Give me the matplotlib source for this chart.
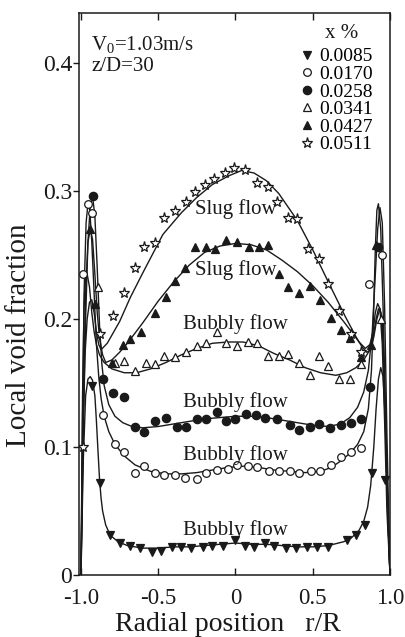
import matplotlib
matplotlib.use("Agg")
import matplotlib.pyplot as plt
from matplotlib.lines import Line2D

plt.rcParams["font.family"] = "serif"
plt.rcParams["font.serif"] = ["Liberation Serif", "DejaVu Serif"]
plt.rcParams["mathtext.fontset"] = "custom"
plt.rcParams["mathtext.rm"] = "Liberation Serif"

# --- measured points (r/R, local void fraction) ---
qualities = ["0.0085", "0.0170", "0.0258", "0.0341", "0.0427", "0.0511"]

m0085_x = [-0.93, -0.88, -0.81, -0.75, -0.68, -0.62, -0.54, -0.48, -0.41, -0.35, -0.29, -0.21, -0.15, -0.08,
           0.0, 0.06, 0.12, 0.19, 0.25, 0.33, 0.39, 0.46, 0.53, 0.60, 0.72, 0.78, 0.84, 0.885, 0.97]
m0085_y = [0.148, 0.072, 0.031, 0.025, 0.023, 0.021, 0.018, 0.019, 0.022, 0.022, 0.021, 0.022, 0.023, 0.023,
           0.027, 0.023, 0.022, 0.025, 0.023, 0.021, 0.021, 0.022, 0.022, 0.022, 0.027, 0.031, 0.039, 0.080, 0.074]

m0170_x = [-0.985, -0.955, -0.93, -0.86, -0.78, -0.72, -0.65, -0.59, -0.52, -0.46, -0.39, -0.33, -0.25, -0.19,
           -0.12, -0.05, 0.01, 0.08, 0.14, 0.22, 0.28, 0.35, 0.41, 0.49, 0.55, 0.62, 0.68, 0.75, 0.81, 0.865, 0.95]
m0170_y = [0.235, 0.290, 0.283, 0.125, 0.102, 0.096, 0.080, 0.085, 0.080, 0.078, 0.078, 0.076, 0.075, 0.080,
           0.082, 0.083, 0.086, 0.085, 0.084, 0.081, 0.081, 0.081, 0.080, 0.081, 0.081, 0.086, 0.092, 0.096, 0.099,
           0.227, 0.250]

m0258_x = [-0.92, -0.86, -0.79, -0.72, -0.65, -0.59, -0.52, -0.45, -0.38, -0.32, -0.25, -0.19, -0.12, -0.06,
           0.0, 0.07, 0.13, 0.19, 0.27, 0.35, 0.41, 0.48, 0.54, 0.61, 0.68, 0.75, 0.81, 0.87, 0.925]
m0258_y = [0.296, 0.153, 0.142, 0.139, 0.116, 0.112, 0.120, 0.123, 0.116, 0.116, 0.122, 0.122, 0.127, 0.120,
           0.122, 0.126, 0.125, 0.123, 0.122, 0.117, 0.113, 0.116, 0.118, 0.115, 0.117, 0.119, 0.122, 0.147, 0.256]

m0341_x = [-0.89, -0.78, -0.72, -0.65, -0.58, -0.52, -0.46, -0.39, -0.32, -0.25, -0.19, -0.12, -0.06, 0.01,
           0.08, 0.14, 0.21, 0.28, 0.34, 0.41, 0.48, 0.54, 0.60, 0.67, 0.74, 0.81, 0.94]
m0341_y = [0.225, 0.166, 0.167, 0.159, 0.166, 0.165, 0.171, 0.170, 0.174, 0.179, 0.181, 0.190, 0.181, 0.179,
           0.182, 0.181, 0.171, 0.171, 0.173, 0.166, 0.156, 0.171, 0.163, 0.153, 0.153, 0.165, 0.200]

m0427_x = [-0.94, -0.91, -0.80, -0.73, -0.68, -0.61, -0.52, -0.45, -0.39, -0.33, -0.26, -0.19, -0.13, -0.06,
           0.01, 0.09, 0.15, 0.21, 0.28, 0.34, 0.41, 0.48, 0.55, 0.62, 0.68, 0.74, 0.81, 0.88, 0.91]
m0427_y = [0.270, 0.212, 0.166, 0.180, 0.184, 0.190, 0.205, 0.217, 0.230, 0.240, 0.256, 0.256, 0.255, 0.262,
           0.260, 0.256, 0.256, 0.258, 0.235, 0.225, 0.220, 0.226, 0.215, 0.201, 0.191, 0.185, 0.170, 0.180, 0.258]

m0511_x = [-0.99, -0.88, -0.79, -0.72, -0.65, -0.59, -0.52, -0.46, -0.39, -0.32, -0.26, -0.20, -0.14, -0.07,
           -0.01, 0.06, 0.14, 0.21, 0.27, 0.34, 0.40, 0.47, 0.54, 0.60, 0.67, 0.75, 0.81]
m0511_y = [0.100, 0.188, 0.202, 0.220, 0.240, 0.256, 0.259, 0.279, 0.284, 0.291, 0.299, 0.305, 0.309, 0.314,
           0.318, 0.316, 0.306, 0.303, 0.291, 0.279, 0.278, 0.255, 0.247, 0.227, 0.206, 0.188, 0.174]

# --- fitted curves ---
f0085_x = [-1.0, -0.985, -0.97, -0.955, -0.94, -0.925, -0.91, -0.9, -0.89, -0.88, -0.87, -0.86, -0.84, -0.81,
           -0.76, -0.7, -0.6, -0.5, -0.4, -0.3, -0.2, -0.1, 0.0, 0.1, 0.2, 0.3, 0.4, 0.5, 0.6, 0.7, 0.75, 0.8,
           0.83, 0.855, 0.875, 0.895, 0.91, 0.925, 0.94, 0.955, 0.97, 0.985, 1.0]
f0085_y = [0.0, 0.09, 0.14, 0.153, 0.155, 0.152, 0.14, 0.12, 0.097, 0.075, 0.06, 0.05, 0.039, 0.031,
           0.026, 0.023, 0.021, 0.021, 0.022, 0.022, 0.023, 0.024, 0.025, 0.024, 0.024, 0.023, 0.022, 0.022,
           0.023, 0.026, 0.029, 0.035, 0.042, 0.053, 0.07, 0.1, 0.13, 0.153, 0.162, 0.155, 0.12, 0.05, 0.0]

f0170_x = [-1.0, -0.99, -0.98, -0.967, -0.955, -0.943, -0.93, -0.915, -0.9, -0.885, -0.87, -0.85, -0.82, -0.78,
           -0.72, -0.65, -0.55, -0.45, -0.35, -0.25, -0.15, -0.05, 0.05, 0.15, 0.25, 0.35, 0.45, 0.55, 0.62,
           0.68, 0.74, 0.79, 0.83, 0.86, 0.88, 0.895, 0.905, 0.915, 0.925, 0.94, 0.955, 0.97, 0.985, 1.0]
f0170_y = [0.0, 0.12, 0.22, 0.275, 0.29, 0.285, 0.26, 0.22, 0.18, 0.155, 0.138, 0.124, 0.112, 0.102,
           0.093, 0.086, 0.081, 0.079, 0.079, 0.080, 0.082, 0.084, 0.085, 0.084, 0.082, 0.081, 0.080, 0.081, 0.084,
           0.089, 0.095, 0.102, 0.112, 0.13, 0.16, 0.21, 0.255, 0.285, 0.29, 0.27, 0.21, 0.13, 0.05, 0.0]

f0258_x = [-1.0, -0.985, -0.97, -0.955, -0.94, -0.925, -0.91, -0.895, -0.88, -0.865, -0.85, -0.82, -0.78, -0.73,
           -0.67, -0.6, -0.5, -0.4, -0.3, -0.2, -0.1, 0.0, 0.1, 0.2, 0.3, 0.4, 0.5, 0.6, 0.68, 0.74, 0.79, 0.83,
           0.86, 0.885, 0.905, 0.92, 0.935, 0.95, 0.965, 0.98, 1.0]
f0258_y = [0.0, 0.11, 0.2, 0.26, 0.288, 0.296, 0.28, 0.24, 0.195, 0.165, 0.148, 0.133, 0.124, 0.119,
           0.116, 0.115, 0.116, 0.118, 0.12, 0.122, 0.123, 0.124, 0.124, 0.123, 0.121, 0.119, 0.117, 0.116, 0.118,
           0.123, 0.131, 0.143, 0.16, 0.19, 0.235, 0.27, 0.287, 0.275, 0.21, 0.11, 0.0]

f0341_x = [-1.0, -0.99, -0.98, -0.97, -0.96, -0.945, -0.93, -0.915, -0.9, -0.88, -0.85, -0.8, -0.72, -0.64,
           -0.55, -0.45, -0.35, -0.25, -0.15, -0.05, 0.05, 0.15, 0.25, 0.35, 0.45, 0.55, 0.65, 0.72, 0.78, 0.83,
           0.865, 0.89, 0.91, 0.925, 0.94, 0.955, 0.97, 0.985, 1.0]
f0341_y = [0.0, 0.14, 0.21, 0.233, 0.235, 0.225, 0.205, 0.19, 0.18, 0.172, 0.166, 0.161, 0.158, 0.158,
           0.161, 0.166, 0.172, 0.177, 0.181, 0.182, 0.182, 0.179, 0.173, 0.168, 0.162, 0.158, 0.156, 0.158,
           0.162, 0.168, 0.175, 0.185, 0.2, 0.208, 0.205, 0.18, 0.12, 0.05, 0.0]

f0427_x = [-1.0, -0.985, -0.97, -0.955, -0.94, -0.925, -0.91, -0.895, -0.88, -0.86, -0.84, -0.8, -0.75, -0.7,
           -0.6, -0.5, -0.4, -0.3, -0.2, -0.1, 0.0, 0.1, 0.2, 0.3, 0.4, 0.5, 0.6, 0.7, 0.8, 0.84, 0.87, 0.89,
           0.905, 0.92, 0.935, 0.95, 0.965, 0.98, 1.0]
f0427_y = [0.0, 0.13, 0.22, 0.26, 0.27, 0.262, 0.235, 0.205, 0.185, 0.172, 0.166, 0.168, 0.174, 0.181,
           0.197, 0.214, 0.229, 0.242, 0.252, 0.257, 0.259, 0.258, 0.254, 0.246, 0.237, 0.226, 0.213, 0.198,
           0.182, 0.177, 0.18, 0.19, 0.205, 0.212, 0.208, 0.18, 0.12, 0.05, 0.0]

f0511_x = [-1.0, -0.99, -0.975, -0.96, -0.945, -0.93, -0.915, -0.9, -0.885, -0.87, -0.83, -0.75, -0.68, -0.6,
           -0.47, -0.35, -0.25, -0.15, -0.04, 0.04, 0.12, 0.2, 0.28, 0.4, 0.5, 0.6, 0.71, 0.78, 0.82, 0.85,
           0.875, 0.895, 0.915, 0.935, 0.95, 0.965, 0.98, 1.0]
f0511_y = [0.0, 0.1, 0.17, 0.2, 0.213, 0.215, 0.205, 0.19, 0.18, 0.176, 0.181, 0.198, 0.217, 0.236,
           0.266, 0.283, 0.295, 0.305, 0.312, 0.316, 0.314, 0.308, 0.298, 0.277, 0.254, 0.229, 0.202, 0.186,
           0.178, 0.174, 0.176, 0.186, 0.2, 0.208, 0.2, 0.15, 0.07, 0.0]

markers_x = [m0085_x, m0170_x, m0258_x, m0341_x, m0427_x, m0511_x]
markers_y = [m0085_y, m0170_y, m0258_y, m0341_y, m0427_y, m0511_y]
fits_x = [f0085_x, f0170_x, f0258_x, f0341_x, f0427_x, f0511_x]
fits_y = [f0085_y, f0170_y, f0258_y, f0341_y, f0427_y, f0511_y]

# regime labels (x, y, text)
regime_x = [0.0, 0.0, 0.0, 0.0, 0.0, 0.0]
regime_y = [0.286, 0.238, 0.196, 0.135, 0.094, 0.035]
regime_txt = ["Slug flow", "Slug flow", "Bubbly flow", "Bubbly flow", "Bubbly flow", "Bubbly flow"]

ink = "#1a1a1a"
styles = [
    dict(marker="v", mfc=ink, ms=5.5),
    dict(marker="o", mfc="white", ms=5.5),
    dict(marker="o", mfc=ink, ms=6),
    dict(marker="^", mfc="white", ms=5.5),
    dict(marker="^", mfc=ink, ms=5.5),
    dict(marker="*", mfc="white", ms=8),
]

fig = plt.figure(figsize=(4.05, 6.37), dpi=100)
ax = fig.add_axes([0.195, 0.0973, 0.768, 0.8823])

for fx, fy in zip(fits_x, fits_y):
    ax.plot(fx, fy, color=ink, lw=1.0, zorder=2)

handles = []
for mx, my, st, q in zip(markers_x, markers_y, styles, qualities):
    ax.plot(mx, my, ls="none", marker=st["marker"], ms=st["ms"], mfc=st["mfc"],
            mec=ink, mew=0.9, zorder=3)
    handles.append(Line2D([], [], ls="none", marker=st["marker"], ms=st["ms"], mfc=st["mfc"],
                          mec=ink, mew=0.9, label=q))

for rx, ry, rt in zip(regime_x, regime_y, regime_txt):
    ax.text(rx, ry, rt, ha="center", va="center", fontsize=15, color=ink, zorder=4)

ax.text(0.04, 0.962, "V$_0$=1.03m/s\nz/D=30", transform=ax.transAxes, ha="left", va="top",
        fontsize=15, linespacing=1.1, color=ink)

# legend title drawn separately so the gap under it matches the original
ax.text(0.846, 0.963, "x %", transform=ax.transAxes, ha="center", va="center", fontsize=15, color=ink)
leg = ax.legend(handles=handles, loc="upper right", bbox_to_anchor=(0.958, 0.945),
                frameon=False, fontsize=14, handlelength=0.75, handletextpad=0.25,
                labelspacing=0.0, borderaxespad=0.0, borderpad=0.2)

ax.set_xlim(-1.013, 0.995)
ax.set_ylim(0, 0.439)
ax.set_xticks([-1.0, -0.5, 0.0, 0.5, 1.0])
ax.set_xticklabels(["-1.0", "-0.5", "0", "0.5", "1.0"])
ax.set_yticks([0, 0.1, 0.2, 0.3, 0.4])
ax.set_yticklabels(["0", "0.1", "0.2", "0.3", "0.4"])
ax.tick_params(axis="x", direction="in", top=True, length=5, width=1, labelsize=16.5, pad=9, colors=ink)
ax.tick_params(axis="y", direction="out", length=4, width=1, labelsize=17, pad=1, colors=ink)
for s in ax.spines.values():
    s.set_linewidth(1.1)
    s.set_color(ink)

ax.set_xlabel("Radial position   r/R", fontsize=20, color=ink)
ax.xaxis.set_label_coords(0.479, -0.066)
ax.set_ylabel("Local void fraction", fontsize=21, color=ink)
ax.yaxis.set_label_coords(-0.152, 0.427)

fig.savefig("out.png", dpi=100)
